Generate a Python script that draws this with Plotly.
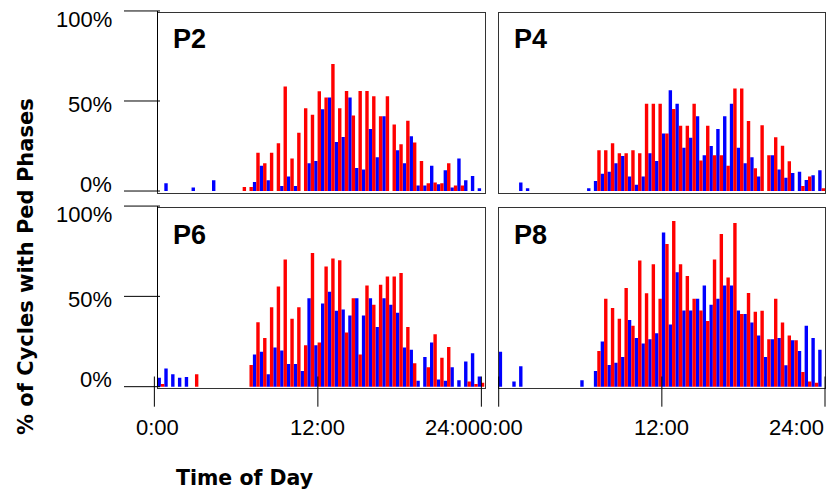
import plotly.graph_objects as go

# ---------------- data ----------------
panel_names = ["P2", "P4", "P6", "P8"]
bin_start_hours = [k * 0.5 for k in range(48)]   # 30-minute bins, 0:00 .. 23:30

p2_blue = [0, 4.3, 0, 0, 0, 2, 0, 0, 6, 0, 0, 0, 0, 0, 5, 14, 6, 0, 2.8, 8.1, 2.8, 0, 15.4, 16.7,
           45.4, 52, 27.2, 30, 52, 12.8, 12, 34.4, 18.7, 41.5, 0, 22.6, 15.4, 30.4, 3, 3, 14, 3.7, 11.5, 2,
           18, 6, 8.3, 1.5]
p2_red = [0, 0, 0, 0, 0, 0, 0, 0, 0, 0, 0, 0, 2.2, 2.2, 21.3, 15.4, 21.3, 26.5, 58, 18, 32.4, 46, 42.4, 55.4,
          52, 70.6, 46, 55.6, 42, 55.6, 55.6, 52.6, 41.5, 52.6, 37, 26, 39, 27, 16.7, 4.3, 4.8, 4.3, 15.4, 3,
          3, 0, 0, 0]

p4_blue = [0, 0, 0, 4.8, 1.5, 0, 0, 0, 0, 0, 0, 0, 0, 1.5, 5.6, 9.6, 10.7, 15.4, 19.4, 8, 3.5, 8, 21, 16.7,
           32, 56, 48.5, 24, 29.6, 41.5, 19.8, 25, 34.4, 41.5, 48.5, 24, 15.4, 18.7, 8.1, 0, 19.8, 12, 7.4, 10,
           10.7, 6.1, 8.7, 11.5]
p4_red = [0, 0, 0, 0, 0, 0, 0, 0, 0, 0, 0, 0, 0, 0, 22.6, 22.6, 26.5, 21, 21, 22.6, 21, 48.5, 48.5, 48.5,
          32, 45.6, 36.3, 36.3, 48.5, 17, 36.3, 19.8, 19.8, 14, 57, 57, 38.9, 12.6, 36.5, 19.8, 29.8, 25.2, 16.5, 0,
          2.8, 8.1, 0, 1.5]

p6_blue = [5, 10, 6.9, 5, 5.4, 0, 0, 0, 0, 0, 0, 0, 0, 0, 17.8, 19.3, 6.9, 21.7, 20, 12.6, 12.6, 8.7, 49, 23,
           46, 52.6, 42, 42.8, 39.4, 49, 39.4, 49, 33, 49, 45.4, 41, 21.7, 20.4, 3.3, 16.5, 24.4, 4, 3.3, 10.7,
           3.5, 14, 18.5, 5.6]
p6_red = [1.5, 0, 0, 0, 0, 6.9, 0, 0, 0, 0, 0, 0, 0, 12, 35.7, 27, 44, 55.4, 70.4, 37.6, 44, 23, 74, 24.4,
          66.5, 71, 70, 30, 49, 17.8, 56, 45.4, 56.5, 61, 61, 63, 33, 13, 0, 10.7, 29, 16, 22, 0,
          0, 2.8, 1.5, 2.2]

p8_blue = [19.3, 0, 2.8, 11.3, 0, 0, 0, 0, 0, 0, 0, 0, 3.5, 0, 8.7, 25, 12, 13.3, 16.5, 36.9, 27, 23.9, 26.3, 29.6,
           85.4, 34.4, 63.3, 42.2, 42.2, 48.7, 56, 45.4, 48.7, 56, 56, 42.2, 40.2, 35.6, 28.3, 16.5, 26.3, 27, 11.9, 25.7,
           19.8, 33.7, 27, 20.4]
p8_red = [0, 0, 0, 0, 0, 0, 0, 0, 0, 0, 0, 0, 0, 0, 19.8, 48.7, 43.5, 37.6, 54.6, 33.7, 69.8, 51.7, 67.8, 48.7,
          79, 91.7, 67.8, 61.3, 48.7, 42.2, 36.3, 70.4, 84.6, 60.4, 90.6, 40.2, 51.9, 41.5, 42, 26.3, 48.7, 35.6, 28.3, 25.7,
          8.1, 2.8, 2.2, 0]

panel_blue = [p2_blue, p4_blue, p6_blue, p8_blue]
panel_red = [p2_red, p4_red, p6_red, p8_red]

x_tick_hours = [0, 12, 24]
x_tick_labels = ["0:00", "12:00", "24:00"]
y_tick_values = [0, 50, 100]
y_tick_labels = ["0%", "50%", "100%"]

# ---------------- style / layout ----------------
W, H = 827, 493
BLUE, RED = "#0000FF", "#FF0000"
FRAME = "#333333"
FONT = "Arial, Liberation Sans, sans-serif"
TITLE_FONT = "DejaVu Sans, Verdana, sans-serif"


def px_x(px):
    return px / W


def px_y(py):
    return 1 - py / H


col_px = [(157.5, 484.5), (498.7, 825.0)]
row_px = [(13.3, 193.0), (207.7, 388.3)]
row_yrange = [(-1.1, 98.7), (-0.9, 99.1)]
col_tick_shift = [-0.23, 0.0]
y_label_shift = [7, -3.6, -8.7]
x_label_anchor = ["center", "center", "right"]
x_label_dx = [3, 0, 1]
label_top_offset = [26, 27.5]

fig = go.Figure()
layout_axes = {}
shapes = []
annotations = []

for i, name in enumerate(panel_names):
    r, c = divmod(i, 2)
    n = i + 1
    xa = "x" if n == 1 else f"x{n}"
    ya = "y" if n == 1 else f"y{n}"
    xkey = "xaxis" if n == 1 else f"xaxis{n}"
    ykey = "yaxis" if n == 1 else f"yaxis{n}"
    px0, px1 = col_px[c]
    py0, py1 = row_px[r]
    pw, ph = px1 - px0, py1 - py0
    lo, hi = row_yrange[r]

    fig.add_trace(go.Bar(x=bin_start_hours, y=panel_blue[i], width=0.25, offset=0.0,
                         marker=dict(color=BLUE, line=dict(width=0)),
                         xaxis=xa, yaxis=ya, showlegend=False, name=name + " blue"))
    fig.add_trace(go.Bar(x=bin_start_hours, y=panel_red[i], width=0.25, offset=0.25,
                         marker=dict(color=RED, line=dict(width=0)),
                         xaxis=xa, yaxis=ya, showlegend=False, name=name + " red"))

    common = dict(showline=True, mirror=True, linecolor=FRAME, linewidth=1, ticks="",
                  showticklabels=False, showgrid=False, zeroline=False, fixedrange=True)
    layout_axes[xkey] = dict(domain=[px_x(px0), px_x(px1)], range=[0, 24], anchor=ya, **common)
    layout_axes[ykey] = dict(domain=[px_y(py1), px_y(py0)], range=[lo, hi], anchor=xa, **common)

    xd, yd = f"{xa} domain", f"{ya} domain"

    # panel label
    annotations.append(dict(text=f"<b>{name}</b>", xref=xd, yref=yd, x=13 / pw,
                            y=1 - label_top_offset[r] / ph, xanchor="left", yanchor="middle",
                            showarrow=False, font=dict(size=27, family=FONT, color="black")))

    # y axis (left column only)
    if c == 0:
        fr = [(v - lo) / (hi - lo) for v in y_tick_values]
        shapes.append(dict(type="line", xref=xd, yref=yd, x0=0, x1=0, y0=min(fr), y1=max(fr),
                           line=dict(color="black", width=1)))
        for fy, lab, dy in zip(fr, y_tick_labels, y_label_shift):
            shapes.append(dict(type="line", xref=xd, yref=yd, x0=-33.5 / pw, x1=2.5 / pw, y0=fy, y1=fy,
                               line=dict(color="black", width=1)))
            annotations.append(dict(text=lab, xref=xd, yref=yd, x=-44 / pw, y=fy, xanchor="right",
                                    yanchor="middle", yshift=dy, showarrow=False,
                                    font=dict(size=22, family=FONT, color="black")))

    # x axis (bottom row only)
    if r == 1:
        for t, lab, anc, dx in zip(x_tick_hours, x_tick_labels, x_label_anchor, x_label_dx):
            fx = (t + col_tick_shift[c]) / 24
            shapes.append(dict(type="line", xref=xd, yref=yd, x0=fx, x1=fx, y0=-18.4 / ph, y1=11.8 / ph,
                               line=dict(color="black", width=1)))
            annotations.append(dict(text=lab, xref=xd, yref=yd, x=fx, y=-39.2 / ph, xanchor=anc,
                                    yanchor="middle", xshift=dx, showarrow=False,
                                    font=dict(size=22, family=FONT, color="black")))

# axis titles
annotations.append(dict(text="<b>Time of Day</b>", xref="paper", yref="paper", x=px_x(244.5), y=px_y(478),
                        xanchor="center", yanchor="middle", showarrow=False,
                        font=dict(size=20.5, family=TITLE_FONT, color="black")))
annotations.append(dict(text="<b>% of Cycles with Ped Phases</b>", xref="paper", yref="paper",
                        x=px_x(26), y=px_y(267), xanchor="center", yanchor="middle", textangle=-90,
                        showarrow=False, font=dict(size=21, family=TITLE_FONT, color="black")))

fig.update_layout(width=W, height=H, margin=dict(l=0, r=0, t=0, b=0),
                  paper_bgcolor="white", plot_bgcolor="white", barmode="overlay",
                  showlegend=False, shapes=shapes, annotations=annotations, **layout_axes)

# remove the default 8px page margin so the 827x493 figure fills the window exactly
fig.write_html("out.html", config={"displayModeBar": False},
               post_script="document.body.style.margin='0px';document.body.style.overflow='hidden';")
